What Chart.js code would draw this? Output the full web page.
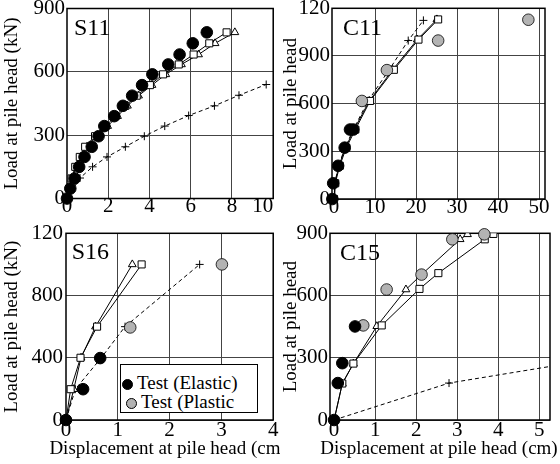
<!DOCTYPE html>
<html lang="en">
<head>
<meta charset="UTF-8" />
<meta name="viewport" content="width=device-width, initial-scale=1.0" />
<title>Load vs displacement at pile head</title>
<script src="https://cdn.jsdelivr.net/npm/chart.js@4.4.1/dist/chart.umd.min.js"></script>
<style>
  body { margin: 0; background: #fff; }
  #wrap { position: relative; width: 560px; height: 464px; overflow: hidden; font-family: "Liberation Serif", "Times New Roman", serif; }
  canvas { position: absolute; }
  #legend { position: absolute; left: 120px; top: 364px; width: 136px; height: 47px; border: 1.5px solid #000; background: #fff; }
  #legend .row { position: absolute; height: 20px; line-height: 20px; font-size: 19px; white-space: nowrap; }
  #legend .mk { display: inline-block; box-sizing: border-box; width: 11px; height: 11px; border-radius: 50%; vertical-align: -1px; margin-right: 4px; }
</style>
</head>
<body>
<div id="wrap">
  <canvas id="s11" width="280" height="220" style="left:0;top:0"></canvas>
  <canvas id="c11" width="280" height="220" style="left:280px;top:0"></canvas>
  <canvas id="s16" width="280" height="244" style="left:0;top:220px"></canvas>
  <canvas id="c15" width="280" height="244" style="left:280px;top:220px"></canvas>
  <div id="legend"></div>
</div>
<script>
// points are [displacement (cm), load (kN)]

// S11
const s11Elastic = [[0,0],[0.16,47],[0.37,95],[0.59,150],[0.85,197],[1.2,245],[1.53,295],[1.81,343],[2.29,390],[2.71,439],[3.16,487],[3.64,537],[4.14,588],[4.91,635],[5.46,682],[6.1,735],[6.78,787]];
const s11Plastic = [];
const s11Square = [[0,0],[0.08,47],[0.22,95],[0.4,150],[0.62,197],[0.88,245],[1.36,295],[1.87,343],[2.35,390],[2.83,439],[3.38,487],[4.02,537],[4.66,588],[5.42,635],[6.14,682],[6.9,735],[7.74,787]];
const s11Triangle = [[0,0],[0.1,47],[0.25,95],[0.45,150],[0.68,197],[0.97,245],[1.44,295],[1.97,343],[2.45,390],[2.93,439],[3.47,487],[4.12,537],[4.79,588],[5.55,635],[6.38,682],[7.18,735],[8.14,787]];
const s11Cross = [[0,0],[0.63,97],[1.24,150],[1.94,197],[2.83,245],[3.75,295],[4.74,343],[5.9,393],[7.15,439],[8.34,489],[9.66,540]];
const s11XTicks = [0,2,4,6,8,10];
const s11XLabels = ['0','2','4','6','8','10    ']; // last one sits inside the frame
const s11YTicks = [0,300,600,900];
const s11YLabels = ['0','300','600','900'];

// C11
const c11Elastic = [[-0.4,0],[-0.2,99],[1.0,209],[2.6,323],[3.9,437],[4.7,437]];
const c11Plastic = [[6.8,617],[12.9,811],[25.4,997],[47.4,1128]];
const c11Square = [[0,0],[0.3,99],[1.4,209],[3.0,323],[5.2,437],[8.8,617],[14.6,813],[20.6,1003],[25.4,1130]];
const c11Triangle = [[0,0],[0.2,99],[1.2,209],[2.8,323],[4.9,437],[8.6,617],[14.3,813],[20.3,1003],[25.1,1130]];
const c11Cross = [[0,0],[0.2,99],[1.1,209],[2.7,323],[4.7,437],[8.3,617],[13.4,811],[18.1,997],[21.8,1124]];
const c11XTicks = [0,10,20,30,40,50];
const c11XLabels = ['0','10','20','30','40','50'];
const c11YTicks = [0,300,600,900,1200];
const c11YLabels = ['0','300','600','900','120'];

// S16
const s16Elastic = [[0,0],[0.33,198],[0.66,398]];
const s16Plastic = [[1.24,595],[3.01,1000]];
const s16Square = [[0,0],[0.09,198],[0.28,400],[0.6,600],[1.46,1000]];
const s16Triangle = [[0,0],[0.15,198],[0.29,400],[0.57,600],[1.28,1000]];
const s16Cross = [[0,0],[0.18,198],[0.68,400],[1.14,600],[2.58,1000]];
const s16XTicks = [0,1,2,3,4];
const s16XLabels = ['0','1','2','3','4'];
const s16YTicks = [0,400,800,1200];
const s16YLabels = ['0','400','800','120'];

// C15
const c15Elastic = [[0,0],[0.09,178],[0.2,274],[0.51,451]];
const c15Plastic = [[0.71,456],[1.28,629],[2.13,701],[2.88,871],[3.66,895]];
const c15Square = [[0,0],[0.2,176],[0.47,272],[1.16,456],[2.08,632],[2.54,708],[3.67,871],[3.88,897]];
const c15Triangle = [[0,0],[0.2,176],[0.47,272],[1.04,452],[1.75,629],[2.13,701],[3.07,871],[3.25,895]];
const c15Cross = [[0,0],[2.8,178],[5.75,274]];
const c15XTicks = [0,1,2,3,4,5];
const c15XLabels = ['0','1','2','3','4','5'];
const c15YTicks = [0,300,600,900];
const c15YLabels = ['0','300','600','900'];

Chart.defaults.font.family = '"Liberation Serif", "Times New Roman", serif';
Chart.defaults.color = '#000';

const pts = arr => arr.map(p => ({x: p[0], y: p[1]}));

// frame, panel name and x title (the title is wider than the plot, so no maxWidth squeeze)
const panelPlugin = {
  id: 'panel',
  beforeDatasetsDraw(chart, args, opts) {
    const {ctx, chartArea: a} = chart;
    ctx.save();
    ctx.strokeStyle = '#000';
    ctx.lineWidth = 1.5;
    ctx.strokeRect(a.left, a.top, a.right - a.left, a.bottom - a.top);
    ctx.fillStyle = '#000';
    ctx.font = '24px "Liberation Serif"';
    ctx.fillText(opts.name, a.left + opts.dx, a.top + opts.dy);
    if (opts.xTitle) {
      ctx.font = '19px "Liberation Serif"';
      ctx.textAlign = 'center';
      ctx.textBaseline = 'middle';
      ctx.fillText(opts.xTitle, (a.left + a.right) / 2 + opts.titleDx, chart.height - 14.5);
    }
    ctx.restore();
  }
};

function drawPanel(id, p) {
  return new Chart(document.getElementById(id), {
    type: 'scatter',
    data: {datasets: [
      {label: 'Test (Elastic)', data: pts(p.elastic), pointRadius: 5.8, pointBackgroundColor: '#000', pointBorderColor: '#000', pointBorderWidth: 1, clip: 8},
      {label: 'Test (Plastic', data: pts(p.plastic), pointRadius: 5.8, pointBackgroundColor: '#b3b3b3', pointBorderColor: '#000', pointBorderWidth: 0.8, clip: 8},
      {label: 'Analysis 1', data: pts(p.square), showLine: true, borderColor: '#000', borderWidth: 1,
        pointStyle: 'rect', pointRadius: 5, pointBackgroundColor: '#fff', pointBorderColor: '#000', pointBorderWidth: 1},
      {label: 'Analysis 2', data: pts(p.triangle), showLine: true, borderColor: '#000', borderWidth: 1,
        pointStyle: 'triangle', pointRadius: 4.5, pointBackgroundColor: '#fff', pointBorderColor: '#000', pointBorderWidth: 1},
      {label: 'Analysis 3', data: pts(p.cross), showLine: true, borderColor: '#000', borderWidth: 1, borderDash: [4, 3],
        pointStyle: 'cross', pointRadius: 4, pointBorderColor: '#000', pointBorderWidth: 1}
    ]},
    options: {
      responsive: false,
      animation: false,
      devicePixelRatio: 1,
      layout: {padding: {left: 0, right: p.padRight, top: p.padTop, bottom: 0}},
      plugins: {
        legend: {display: false},
        tooltip: {enabled: false},
        panel: {name: p.name, dx: p.labelDx, dy: p.labelDy, xTitle: p.xTitle, titleDx: p.titleDx || 0}
      },
      scales: {
        x: {
          min: p.xMin, max: p.xMax,
          afterBuildTicks: s => { s.ticks = p.xTicks.map(v => ({value: v})); },
          afterFit: s => { s.height = p.xHeight; s.paddingLeft = 0; s.paddingRight = 0; },
          ticks: {padding: p.xPad, font: {size: 21, lineHeight: 1}, maxRotation: 0, autoSkip: false, callback: (v, i) => p.xLabels[i]},
          grid: {color: c => (c.tick && c.tick.value === 0) ? 'rgba(0,0,0,0)' : '#444', lineWidth: 1, drawTicks: false},
          border: {display: false}
        },
        y: {
          min: p.yMin, max: p.yMax,
          afterBuildTicks: s => { s.ticks = p.yTicks.map(v => ({value: v})); },
          afterFit: s => { s.width = p.yWidth; s.paddingTop = 0; s.paddingBottom = 0; },
          ticks: {padding: p.yPad, font: {size: 21}, autoSkip: false, callback: (v, i) => p.yLabels[i]},
          grid: {color: '#444', lineWidth: 1, drawTicks: false},
          border: {display: false},
          title: {display: true, text: p.yTitle, font: {size: 19}, padding: {top: p.yTitlePad, bottom: 0}}
        }
      }
    },
    plugins: [panelPlugin]
  });
}

drawPanel('s11', {
  name: 'S11', labelDx: 7, labelDy: 26.5,
  elastic: s11Elastic, plastic: s11Plastic, square: s11Square, triangle: s11Triangle, cross: s11Cross,
  xMin: 0, xMax: 10, xTicks: s11XTicks, xLabels: s11XLabels, yMin: 0, yMax: 900, yTicks: s11YTicks, yLabels: s11YLabels,
  padRight: 5, padTop: 8.5, xHeight: 21.5, yWidth: 67, xPad: -2.3, yPad: 2,
  xTitle: '', yTitle: 'Load at pile head (kN)', yTitlePad: 1
});

drawPanel('c11', {
  name: 'C11', labelDx: 11, labelDy: 26.7,
  elastic: c11Elastic, plastic: c11Plastic, square: c11Square, triangle: c11Triangle, cross: c11Cross,
  xMin: -0.49, xMax: 51.46, xTicks: c11XTicks, xLabels: c11XLabels, yMin: 0, yMax: 1200, yTicks: c11YTicks, yLabels: c11YLabels,
  padRight: 15, padTop: 8.3, xHeight: 21, yWidth: 52, xPad: -2.3, yPad: 2,
  xTitle: '', yTitle: 'Load at pile head', yTitlePad: 0
});

const s16Chart = drawPanel('s16', {
  name: 'S16', labelDx: 5.7, labelDy: 26,
  elastic: s16Elastic, plastic: s16Plastic, square: s16Square, triangle: s16Triangle, cross: s16Cross,
  xMin: 0, xMax: 4, xTicks: s16XTicks, xLabels: s16XLabels, yMin: 0, yMax: 1200, yTicks: s16YTicks, yLabels: s16YLabels,
  padRight: 5.5, padTop: 13.3, xHeight: 44, yWidth: 66, xPad: 0.3, yPad: 3,
  xTitle: 'Displacement at pile head (cm)', titleDx: -1.5, yTitle: 'Load at pile head (kN)', yTitlePad: 1
});

drawPanel('c15', {
  name: 'C15', labelDx: 10, labelDy: 26.7,
  elastic: c15Elastic, plastic: c15Plastic, square: c15Square, triangle: c15Triangle, cross: c15Cross,
  xMin: -0.1, xMax: 5.26, xTicks: c15XTicks, xLabels: c15XLabels, yMin: 0, yMax: 900, yTicks: c15YTicks, yLabels: c15YLabels,
  padRight: 10, padTop: 13.3, xHeight: 44, yWidth: 50, xPad: 0.3, yPad: 2,
  xTitle: 'Displacement at pile head (cm)', titleDx: -1, yTitle: 'Load at pile head', yTitlePad: 0
});

// legend box inside S16, built from its two test datasets
const legendEl = document.getElementById('legend');
const rowPos = [{top: 8, left: 1}, {top: 27, left: 5}];
s16Chart.data.datasets.slice(0, 2).forEach((ds, i) => {
  const row = document.createElement('div');
  row.className = 'row';
  row.style.top = rowPos[i].top + 'px';
  row.style.left = rowPos[i].left + 'px';
  const mk = document.createElement('span');
  mk.className = 'mk';
  mk.style.background = ds.pointBackgroundColor;
  mk.style.border = '1px solid ' + ds.pointBorderColor;
  row.appendChild(mk);
  row.appendChild(document.createTextNode(ds.label));
  legendEl.appendChild(row);
});
</script>
</body>
</html>
